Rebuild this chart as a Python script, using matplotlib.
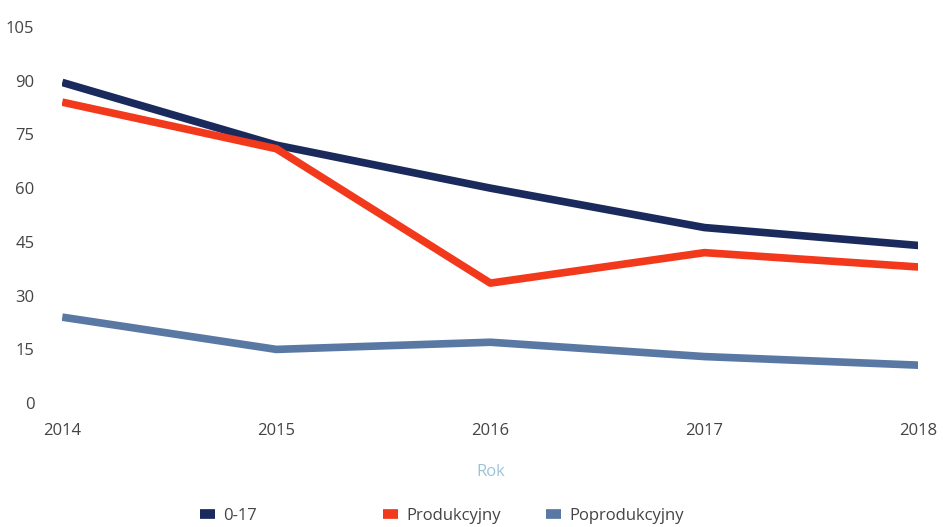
import matplotlib
matplotlib.use("Agg")
import matplotlib.pyplot as plt

plt.rcParams["font.family"] = ["Open Sans", "DejaVu Sans"]

years = [2014, 2015, 2016, 2017, 2018]
age_0_17 = [89.5, 72, 60, 49, 44]
produkcyjny = [84, 71, 33.5, 42, 38]
poprodukcyjny = [24, 15, 17, 13, 10.6]

fig = plt.figure(figsize=(9.43, 5.27), dpi=100)
ax = fig.add_axes([0.066, 0.235, 0.908, 0.714])

lines = []
lines += ax.plot(years, age_0_17, color="#1b2a5c", lw=5.5, label="0-17", solid_capstyle="butt")
lines += ax.plot(years, produkcyjny, color="#f2391c", lw=5.5, label="Produkcyjny", solid_capstyle="butt")
lines += ax.plot(years, poprodukcyjny, color="#5a78a4", lw=5.5, label="Poprodukcyjny", solid_capstyle="butt")

ax.set_xlim(2014, 2018)
ax.set_ylim(0, 105)
ax.set_yticks(range(0, 106, 15))
ax.set_xticks(years)
for s in ax.spines.values():
    s.set_visible(False)
ax.tick_params(length=0, labelsize=12, colors="#444444")
ax.tick_params(axis="y", pad=20)
ax.tick_params(axis="x", pad=14)
ax.set_xlabel("Rok", color="#9cc4d8", fontsize=12, labelpad=18)

# legend entries sit at uneven spacing in the original
for line, x in zip(lines, [200, 383, 546]):
    leg = fig.legend(handles=[line], loc="center left", bbox_to_anchor=(x / 943, 1 - 516 / 527),
                     frameon=False, fontsize=12, handlelength=0.9, handletextpad=0.5,
                     borderpad=0, borderaxespad=0, labelcolor="#444444")
    leg.legend_handles[0].set_linewidth(7)

fig.savefig("out.png", dpi=100)
